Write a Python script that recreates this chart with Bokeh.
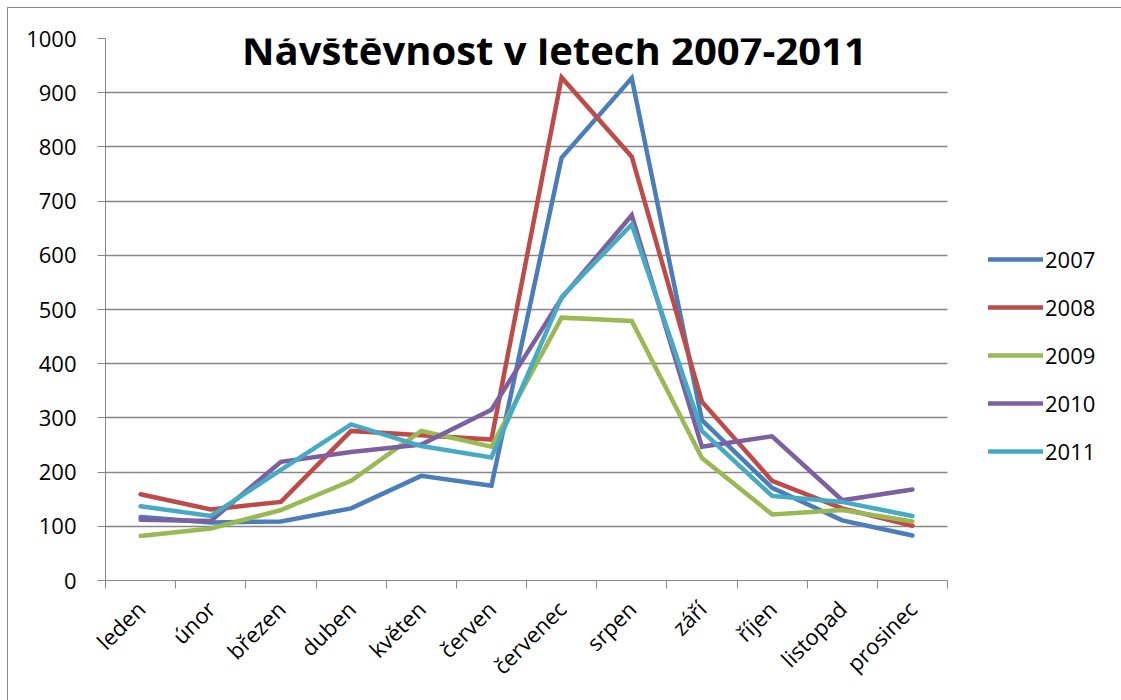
from bokeh.plotting import figure
from bokeh.models import FixedTicker, Legend, LegendItem, Label, Range1d
from bokeh.embed import file_html
from bokeh.resources import INLINE

months = ["leden", "únor", "březen", "duben", "květen", "červen",
          "červenec", "srpen", "září", "říjen", "listopad", "prosinec"]
years = ["2007", "2008", "2009", "2010", "2011"]
v2007 = [117, 107, 109, 133, 193, 175, 780, 927, 296, 171, 111, 83]
v2008 = [159, 131, 145, 276, 268, 260, 928, 782, 330, 184, 133, 101]
v2009 = [82, 96, 130, 184, 276, 247, 485, 479, 226, 122, 130, 109]
v2010 = [112, 110, 219, 237, 251, 315, 521, 674, 247, 266, 148, 168]
v2011 = [137, 119, 204, 288, 248, 227, 523, 657, 276, 156, 145, 119]
series = [v2007, v2008, v2009, v2010, v2011]
colors = ["#4A7EBB", "#BE4B48", "#98B954", "#7D60A0", "#46AAC5"]
title_text = "Návštěvnost v letech 2007-2011"

FONT = "Open Sans"
GRAY = "#868686"

n = len(months)
xs = [i + 0.5 for i in range(n)]

W, H = 1114, 693
BL, BT, BB = 97, 30, 121
plot_px = 842.0                      # width of the category area in pixels
x_end = (W - BL) / (plot_px / n)     # frame extends over the legend area

p = figure(width=W, height=H, output_backend="svg", toolbar_location=None,
           x_range=Range1d(0, x_end), y_range=Range1d(0, 1000),
           min_border_left=BL, min_border_right=0, min_border_top=BT, min_border_bottom=BB)
p.styles = {"border-top": "1px solid #868686", "border-left": "1px solid #868686",
            "margin-left": "7px", "margin-top": "7px"}
p.outline_line_color = None
p.background_fill_color = "white"
p.border_fill_color = "white"

# y axis
p.yaxis.ticker = FixedTicker(ticks=list(range(0, 1001, 100)))
p.yaxis.axis_line_color = GRAY
p.yaxis.major_tick_line_color = GRAY
p.yaxis.major_tick_out = 8
p.yaxis.major_tick_in = 0
p.yaxis.minor_tick_line_color = None
p.yaxis.major_label_text_font = FONT
p.yaxis.major_label_text_font_size = "22px"
p.yaxis.major_label_text_color = "black"
p.yaxis.major_label_standoff = 21

# x axis: labels at category centres, ticks at category boundaries
p.xaxis.ticker = FixedTicker(ticks=xs, minor_ticks=list(range(n + 1)))
p.xaxis.bounds = (0, n)
p.xaxis.major_label_overrides = {x: m for x, m in zip(xs, months)}
p.xaxis.major_tick_out = 0
p.xaxis.major_tick_in = 0
p.xaxis.minor_tick_out = 8
p.xaxis.minor_tick_in = 0
p.xaxis.minor_tick_line_color = GRAY
p.xaxis.axis_line_color = GRAY
p.xaxis.major_label_orientation = 0.785398
p.xaxis.major_label_text_font = FONT
p.xaxis.major_label_text_font_size = "22px"
p.xaxis.major_label_text_color = "black"
p.xaxis.major_label_standoff = 16

p.xgrid.grid_line_color = None
p.ygrid.ticker = FixedTicker(ticks=list(range(100, 1001, 100)))
p.ygrid.cross_bounds = (0, n)
p.ygrid.grid_line_color = GRAY
p.ygrid.grid_line_width = 1.5

items = []
for name, vals, c in zip(years, series, colors):
    r = p.line(xs, vals, line_color=c, line_width=4.5, line_join="miter", line_cap="round")
    items.append(LegendItem(label=name, renderers=[r]))

legend = Legend(items=items, location=(883, 114), padding=0, margin=0,
                spacing=18, label_height=20, glyph_height=20, glyph_width=55,
                label_standoff=2, border_line_color=None, background_fill_alpha=0,
                label_text_font=FONT, label_text_font_size="22px", label_text_color="black")
p.add_layout(legend, "center")

title = Label(x=553 - 104, y=531, x_units="screen", y_units="screen",
              text=title_text, text_font=FONT, text_font_style="bold",
              text_font_size="40px", text_align="center", text_baseline="alphabetic",
              text_color="black")
p.add_layout(title)

open("out.html", "w").write(file_html(p, INLINE))
